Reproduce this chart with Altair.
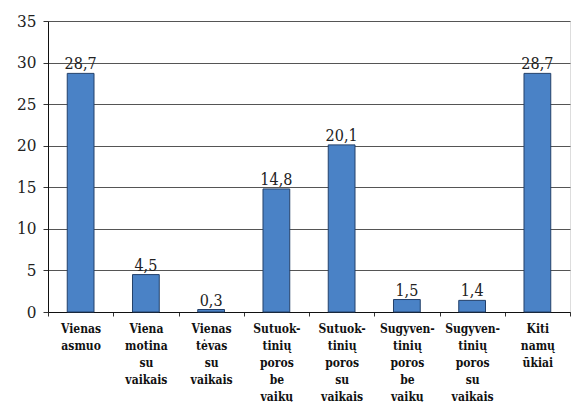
import altair as alt
import pandas as pd

categories = [
    "Vienas|asmuo",
    "Viena|motina|su|vaikais",
    "Vienas|tėvas|su|vaikais",
    "Sutuok-|tinių|poros|be|vaikų",
    "Sutuok-|tinių|poros|su|vaikais",
    "Sugyven-|tinių|poros|be|vaikų",
    "Sugyven-|tinių|poros|su|vaikais",
    "Kiti|namų|ūkiai",
]
values = [28.7, 4.5, 0.3, 14.8, 20.1, 1.5, 1.4, 28.7]
y_ticks = [0, 5, 10, 15, 20, 25, 30, 35]

df = pd.DataFrame({"cat": categories, "v": values})

FONT = "DejaVu Serif Condensed"

x = alt.X(
    "cat:N",
    sort=categories,
    title=None,
    scale=alt.Scale(paddingInner=0, paddingOuter=0),
    axis=alt.Axis(
        labelExpr="split(datum.label, '|')",
        labelAngle=0,
        labelFont=FONT,
        labelFontSize=12,
        labelFontWeight="bold",
        labelColor="#111",
        labelLineHeight=17,
        labelPadding=7,
        labelBaseline="top",
        tickBand="extent",
        tickSize=4,
        tickColor="#333",
        domainColor="#111",
        grid=False,
    ),
)

y = alt.Y(
    "v:Q",
    title=None,
    scale=alt.Scale(domain=[0, 35], nice=False),
    axis=alt.Axis(
        values=y_ticks,
        labelFont=FONT,
        labelFontSize=17,
        labelColor="#222",
        labelPadding=7,
        tickSize=5,
        tickColor="#333",
        domainColor="#111",
        gridColor="#555",
        gridWidth=1,
    ),
)

bars = alt.Chart(df).mark_bar(
    width=alt.RelativeBandSize(0.41),
    color="#4a82c6",
    stroke="#23406a",
    strokeWidth=1,
).encode(x=x, y=y)

labels = alt.Chart(df).transform_calculate(
    lab="replace(format(datum.v, '.1f'), '.', ',')"
).mark_text(
    font=FONT, fontSize=16, color="#222", baseline="bottom", dy=-1
).encode(x=alt.X("cat:N", sort=categories), y="v:Q", text="lab:N")

chart = (
    alt.layer(bars, labels)
    .properties(width=522, height=291, padding={"left": 8, "top": 4, "right": 0, "bottom": 0})
    .configure_view(stroke=None)
    .configure(background="white")
)

chart.save("out.html", embed_options={"renderer": "svg", "actions": False})
